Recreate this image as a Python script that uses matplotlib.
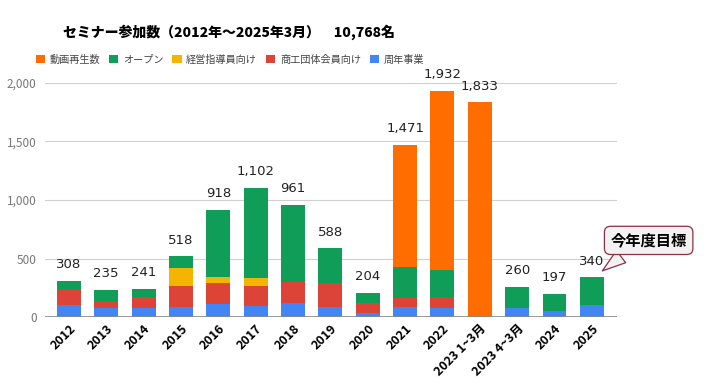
import numpy as np
import matplotlib
matplotlib.use("Agg")
import matplotlib.pyplot as plt

plt.rcParams['font.family'] = ['Noto Sans CJK JP', 'DejaVu Sans']

# Data
years = ['2012', '2013', '2014', '2015', '2016', '2017', '2018', '2019', '2020',
         '2021', '2022', '2023 1~3月', '2023 4~3月', '2024', '2025']
anniv = [103, 75, 75, 83, 111, 94, 117, 83, 37, 88, 80, 0, 74, 54, 105]       # 周年事業
member = [128, 62, 93, 182, 177, 174, 185, 205, 80, 72, 88, 0, 0, 0, 0]       # 商工団体会員向け
advisor = [0, 0, 0, 157, 52, 63, 0, 0, 0, 0, 0, 0, 0, 0, 0]                   # 経営指導員向け
open_ = [77, 98, 73, 96, 578, 771, 659, 300, 87, 265, 234, 0, 186, 143, 235]  # オープン
video = [0, 0, 0, 0, 0, 0, 0, 0, 0, 1046, 1530, 1833, 0, 0, 0]                # 動画再生数
totals = [308, 235, 241, 518, 918, 1102, 961, 588, 204, 1471, 1932, 1833, 260, 197, 340]

series = [
    ('周年事業', anniv, '#4285F4'),
    ('商工団体会員向け', member, '#DB4437'),
    ('経営指導員向け', advisor, '#F4B400'),
    ('オープン', open_, '#0F9D58'),
    ('動画再生数', video, '#FF6D00'),
]

fig = plt.figure(figsize=(7.14, 3.91), dpi=100)
ax = fig.add_axes([0.063, 0.189, 0.801, 0.599])

x = np.arange(len(years))
bottom = np.zeros(len(years))
handles = {}
for name, vals, color in series:
    vals = np.array(vals, dtype=float)
    b = ax.bar(x, vals, 0.64, bottom=bottom, color=color, label=name, zorder=3)
    handles[name] = b
    bottom += vals

for xi, t in zip(x, totals):
    ax.annotate(f'{t:,}', (xi, t), xytext=(0, 7), textcoords='offset points',
                ha='center', va='bottom', fontsize=9.5, color='#222222',
                family=['DejaVu Sans'])

ax.set_xlim(-0.64, 14.67)
ax.set_ylim(0, 2000)
ax.set_yticks([0, 500, 1000, 1500, 2000])
ax.set_yticklabels(['0', '500', '1,000', '1,500', '2,000'], color='#777777', fontsize=8.5)
ax.grid(axis='y', color='#d0d0d0', linewidth=0.8, zorder=0)
ax.axhline(0, color='#888888', linewidth=1.2, zorder=4)
for s in ax.spines.values():
    s.set_visible(False)
ax.tick_params(axis='both', length=0)
ax.tick_params(axis='y', pad=6)
ax.set_xticks(x)
ax.set_xticklabels(years, rotation=45, ha='right', rotation_mode='anchor',
                   fontsize=9, fontweight='bold')

fig.text(0.32, 0.918, 'セミナー参加数（2012年～2025年3月）　10,768名',
         ha='center', va='center', fontsize=10, fontweight='heavy')

order = ['動画再生数', 'オープン', '経営指導員向け', '商工団体会員向け', '周年事業']
fig.legend([handles[n] for n in order], order, loc='center', bbox_to_anchor=(0.322, 0.848),
           ncol=5, frameon=False, fontsize=7.3, handlelength=0.9, handleheight=0.9,
           columnspacing=0.9, handletextpad=0.45, labelcolor='#444444')

# callout
ax.annotate('今年度目標', xy=(14.22, 380), xytext=(15.52, 655),
            ha='center', va='center', fontsize=11, fontweight='bold',
            annotation_clip=False, zorder=6,
            bbox=dict(boxstyle='round,pad=0.4', fc='#f2f2f2', ec='#8b3048', lw=0.9),
            arrowprops=dict(arrowstyle='wedge,tail_width=1.0', fc='#f2f2f2',
                            ec='#8b3048', lw=0.9, relpos=(0.28, 0.0)))

fig.savefig('out.png', dpi=100)
